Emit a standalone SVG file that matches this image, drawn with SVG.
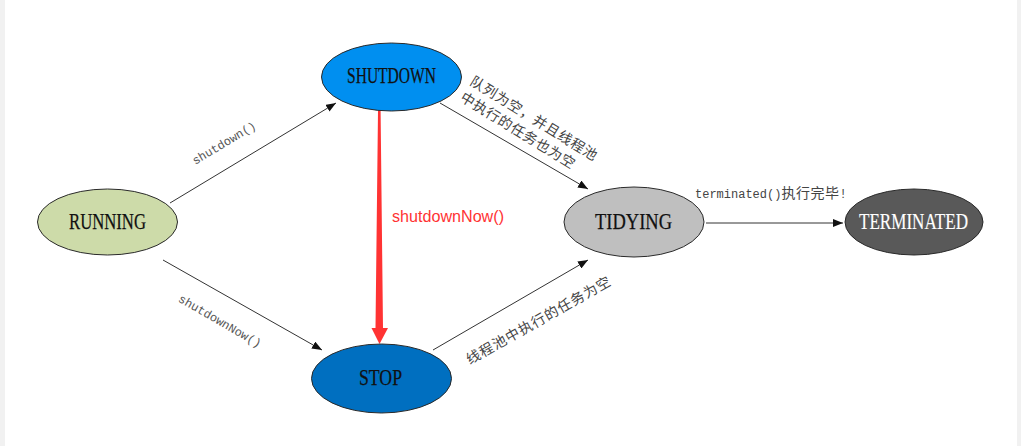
<svg xmlns="http://www.w3.org/2000/svg" width="1021" height="446" viewBox="0 0 1021 446">
  <defs>
    <marker id="arr" viewBox="0 0 10 8" refX="10" refY="4" markerWidth="10" markerHeight="8" markerUnits="userSpaceOnUse" orient="auto">
      <path d="M0,0 L10,4 L0,8 Z" fill="#111"/>
    </marker>
  </defs>
  <style>
    .node { stroke: #2a2a2a; stroke-width: 1; }
    .nt { font-family: "Liberation Serif", serif; font-size: 23px; text-anchor: middle; fill: #111; stroke: #111; stroke-width: 0.25px; }
    .edge { stroke: #333; stroke-width: 1; fill: none; marker-end: url(#arr); }
    .mono { font-family: "Liberation Mono", monospace; font-size: 12px; fill: #555; }
    .cjk { font-family: "Noto Sans CJK SC", sans-serif; font-size: 14px; fill: #444; letter-spacing: 0.7px; }
  </style>
  <rect x="0" y="0" width="1021" height="446" fill="#ffffff"/>
  <rect x="0" y="0" width="5" height="446" fill="#f1f1f1"/>
  <rect x="1017" y="0" width="4" height="446" fill="#f1f1f1"/>

  <g id="connectors">
    <line class="edge" x1="170" y1="203" x2="336" y2="103"/>
    <text class="mono" text-anchor="middle" transform="translate(226,146.5) rotate(-31)">shutdown()</text>

    <line class="edge" x1="163" y1="260" x2="322" y2="350"/>
    <text class="mono" text-anchor="middle" transform="translate(218,324.5) rotate(30)">shutdownNow()</text>

    <path d="M378,111 L380.6,111 L383,328 L388,328 L379.5,344 L371.5,328 L375.5,328 Z" fill="#ff3333"/>
    <text x="392" y="222" font-family="Liberation Sans, sans-serif" font-size="16" fill="#ff3333" textLength="112" lengthAdjust="spacingAndGlyphs">shutdownNow()</text>

    <line class="edge" x1="440" y1="103" x2="588" y2="189"/>
    <text class="cjk" transform="translate(468.9,84.1) rotate(31.7)">队列为空，并且线程池</text>
    <text class="cjk" transform="translate(459.3,100) rotate(31.7)">中执行的任务也为空</text>

    <line class="edge" x1="433" y1="350" x2="588" y2="260"/>
    <text class="cjk" style="letter-spacing:0.9px" transform="translate(469.8,364.7) rotate(-29.4)">线程池中执行的任务为空</text>

    <line class="edge" x1="706" y1="223" x2="843" y2="223"/>
    <text x="695" y="198" class="mono" style="fill:#444">terminated()<tspan font-family="Noto Sans CJK SC, sans-serif" font-size="14" letter-spacing="0.5">执行完毕</tspan>!</text>
  </g>

  <g id="node-running">
    <ellipse class="node" cx="107.5" cy="222" rx="70" ry="33" fill="#cddba9"/>
    <text class="nt" x="107.5" y="229" textLength="77" lengthAdjust="spacingAndGlyphs">RUNNING</text>
  </g>
  <g id="node-shutdown">
    <ellipse class="node" cx="391.5" cy="77" rx="70" ry="34" fill="#008ff0"/>
    <text class="nt" x="391.5" y="83" textLength="89" lengthAdjust="spacingAndGlyphs">SHUTDOWN</text>
  </g>
  <g id="node-stop">
    <ellipse class="node" cx="381.5" cy="378.5" rx="70" ry="34.5" fill="#006fc0"/>
    <text class="nt" x="380.5" y="385" textLength="43" lengthAdjust="spacingAndGlyphs">STOP</text>
  </g>
  <g id="node-tidying">
    <ellipse class="node" cx="634" cy="222" rx="70" ry="35" fill="#bfbfbf"/>
    <text class="nt" x="633.5" y="229" textLength="77" lengthAdjust="spacingAndGlyphs">TIDYING</text>
  </g>
  <g id="node-terminated">
    <ellipse class="node" cx="914" cy="222" rx="69" ry="33" fill="#595959"/>
    <text class="nt" x="913.5" y="229" textLength="109" lengthAdjust="spacingAndGlyphs" style="fill:#ffffff;stroke:#ffffff;stroke-width:0.15px">TERMINATED</text>
  </g>
</svg>
